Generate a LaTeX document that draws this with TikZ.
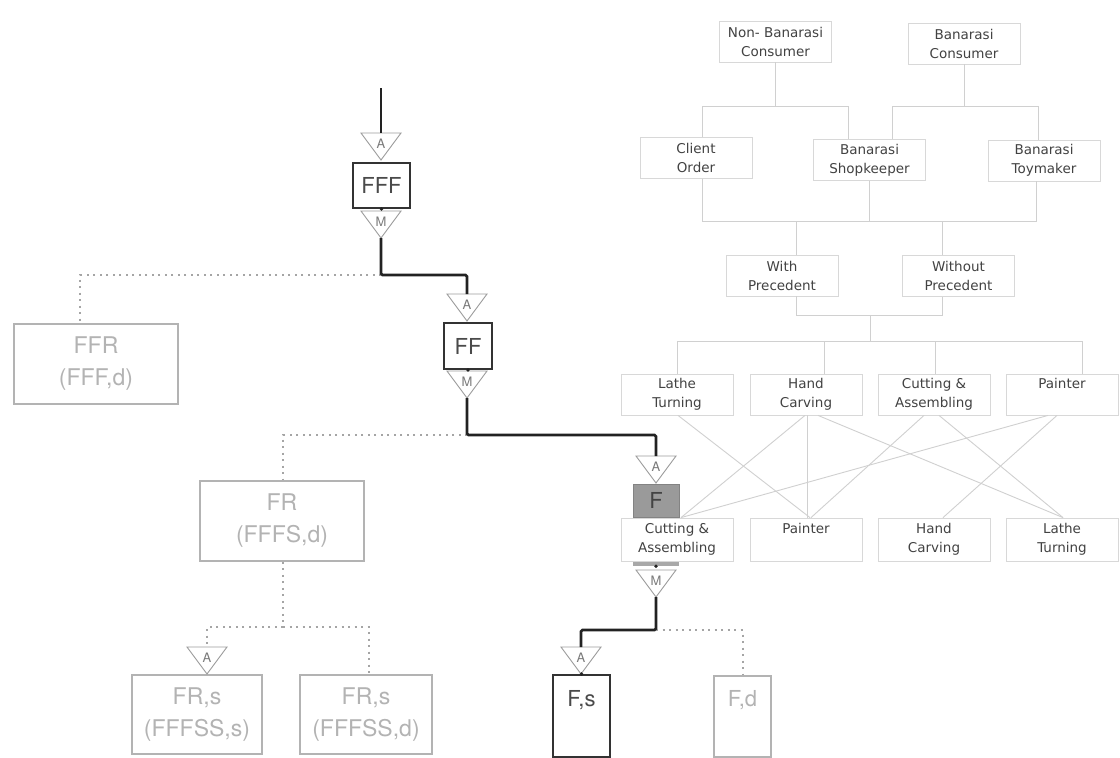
\documentclass[tikz,border=0pt]{standalone}
\usepackage{fontspec}
\setmainfont{TeX Gyre Heros}
\newfontfamily\treefont{DejaVu Sans}
\definecolor{ink}{HTML}{222222}
\definecolor{darkborder}{HTML}{333333}
\definecolor{darktext}{HTML}{4A4A4A}
\definecolor{lightgr}{HTML}{B3B3B3}
\definecolor{dotgr}{HTML}{A5A5A5}
\definecolor{trigr}{HTML}{9C9C9C}
\definecolor{trilblc}{HTML}{7A7A7A}
\definecolor{treeline}{HTML}{D0D0D0}
\definecolor{treeborder}{HTML}{D8D8D8}
\definecolor{treetext}{HTML}{424242}
\definecolor{ffill}{HTML}{9A9A9A}
\definecolor{barfill}{HTML}{A8A8A8}
\tikzset{
  darkbox/.style={draw=darkborder, line width=2pt, inner sep=0pt, text=darktext,
    font=\fontsize{22}{26}\selectfont},
  lightbox/.style={draw=lightgr, line width=1.8pt, inner sep=0pt, text=lightgr,
    align=center, font=\fontsize{23}{32}\selectfont},
  treebox/.style={draw=treeborder, line width=0.8pt, inner sep=0pt, text=treetext,
    align=center, minimum width=112, minimum height=41,
    font=\treefont\fontsize{13.5}{19}\selectfont},
  tree/.style={draw=treeline, line width=0.9pt},
  mainline/.style={draw=ink, line width=2.8pt, rounded corners=1.5pt},
  dotline/.style={draw=dotgr, line width=2pt, dash pattern=on 2pt off 4.5pt},
  tricol/.style={draw=trigr, line width=0.9pt, line join=miter},
  trilbl/.style={text=trilblc, inner sep=0pt, font=\fontsize{13}{14}\selectfont},
  pics/dtri/.style={code={
    \draw[tricol] (-20,0) -- (20,0) -- (0,27) -- cycle;
    \coordinate (-top) at (0,0);
    \coordinate (-apex) at (0,27);
    \node[trilbl] (-l) at (0,11) {#1};
  }}
}
\begin{document}
\begin{tikzpicture}[x=1pt,y=-1pt]
\useasboundingbox (0,0) rectangle (1120,758);
\fill[white] (0,0) rectangle (1120,758);

% ---------------- right tree -----------------
\node[treebox] (nbc) at (775.5,41.5) {Non- Banarasi\\Consumer};
\node[treebox] (bc)  at (964,43.5) {Banarasi\\Consumer};
\node[treebox] (co)  at (696,158) {Client\\Order};
\node[treebox] (sk)  at (869.5,160) {Banarasi\\Shopkeeper};
\node[treebox] (tm)  at (1044,160.5) {Banarasi\\Toymaker};
\node[treebox] (wp)  at (782,275.5) {With\\Precedent};
\node[treebox] (wop) at (958.5,276) {Without\\Precedent};

\node[treebox] (lt1) at (677,394.5) {Lathe\\Turning};
\node[treebox] (hc1) at (806,394.5) {Hand\\Carving};
\node[treebox] (ca1) at (934,394.5) {Cutting \&\\Assembling};
\node[treebox] (pa1) at (1062,394.5) {Painter\\\phantom{g}};

\node[treebox, minimum height=43] (ca2) at (677,539.5) {Cutting \&\\Assembling};
\node[treebox, minimum height=43] (pa2) at (806,539.5) {Painter\\\phantom{g}};
\node[treebox, minimum height=43] (hc2) at (934,539.5) {Hand\\Carving};
\node[treebox, minimum height=43] (lt2) at (1062,539.5) {Lathe\\Turning};

\coordinate (b1l) at (702,106); \coordinate (b1r) at (848,106);
\draw[tree] (nbc.south) -- (nbc.south |- b1l);
\draw[tree] (b1l |- co.north) -- (b1l) -- (b1r) -- (b1r |- sk.north);
\coordinate (b2l) at (892,106); \coordinate (b2r) at (1038,106);
\draw[tree] (bc.south) -- (bc.south |- b2l);
\draw[tree] (b2l |- sk.north) -- (b2l) -- (b2r) -- (b2r |- tm.north);

\coordinate (b3l) at (702,221); \coordinate (b3r) at (1036,221);
\draw[tree] (b3l |- co.south) -- (b3l) -- (b3r) -- (b3r |- tm.south);
\draw[tree] (sk.south) -- (sk.south |- b3l);

\coordinate (b4l) at (796,315); \coordinate (b4r) at (942,315);
\draw[tree] (b4l |- b3l) -- (b4l |- wp.north);
\draw[tree] (b4r |- b3l) -- (b4r |- wop.north);
\draw[tree] (b4l |- wp.south) -- (b4l) -- (b4r) -- (b4r |- wop.south);

\coordinate (b5m) at (870,341);
\draw[tree] (b5m |- b4l) -- (b5m);
\coordinate (b5l) at (677,341); \coordinate (b5r) at (1082,341);
\coordinate (v1) at (824,341); \coordinate (v2) at (935,341);
\draw[tree] (b5l) -- (b5r);
\draw[tree] (b5l) -- (b5l |- lt1.north);
\draw[tree] (v1) -- (v1 |- hc1.north);
\draw[tree] (v2) -- (v2 |- ca1.north);
\draw[tree] (b5r) -- (b5r |- pa1.north);

% crossing lines
\draw[tree] ([xshift=1pt]lt1.south) -- ([xshift=4pt]pa2.north);
\draw[tree] ([xshift=-1pt]hc1.south) -- ([xshift=4pt]ca2.north);
\draw[tree] ([xshift=1pt]hc1.south) -- ([xshift=1pt]pa2.north);
\draw[tree] ([xshift=12pt]hc1.south) -- ([xshift=1pt]lt2.north);
\draw[tree] ([xshift=-10pt]ca1.south) -- ([xshift=5pt]pa2.north);
\draw[tree] ([xshift=5pt]ca1.south) -- ([xshift=1pt]lt2.north);
\draw[tree] ([xshift=-14pt]pa1.south) -- ([xshift=4pt]ca2.north);
\draw[tree] ([xshift=-5pt]pa1.south) -- ([xshift=9pt]hc2.north);

% ---------------- left chain -----------------
\node[darkbox, minimum width=57, minimum height=45] (fff) at (381.5,185.5) {FFF};
\node[darkbox, minimum width=48, minimum height=46] (ff) at (468,346) {FF};
\node[lightbox, minimum width=164, minimum height=80] (ffr) at (96,364) {FFR\\(FFF,d)};
\node[lightbox, minimum width=164, minimum height=80] (fr) at (282,521) {FR\\(FFFS,d)};
\node[lightbox, minimum width=130, minimum height=79] (frs1) at (197,714.5) {FR,s\\(FFFSS,s)};
\node[lightbox, minimum width=132, minimum height=79] (frs2) at (366,714.5) {FR,s\\(FFFSS,d)};
\node[draw=ffill!85!black, line width=0.8pt, fill=ffill, minimum width=46, minimum height=33,
      inner sep=0pt, text=ink!85!white, font=\fontsize{22}{26}\selectfont] (fbox) at (656,500.5) {F};
\node[fill=barfill, minimum width=46, minimum height=4, inner sep=0pt] (fbar) at (656,564) {};
\node[darkbox, anchor=north, minimum width=57, minimum height=82,
      text height=31pt, text depth=51pt] (fs) at (581.5,674) {F,s};
\node[lightbox, anchor=north, minimum width=57, minimum height=81,
      text height=31pt, text depth=50pt, font=\fontsize{22}{26}\selectfont] (fd) at (742.5,675) {F,d};

\pic (tA1) at (381,133) {dtri=A};
\pic (tM1) at (381,211) {dtri=M};
\pic (tA2) at (467,294) {dtri=A};
\pic (tM2) at (467,371) {dtri=M};
\pic (tA3) at (656,456) {dtri=A};
\pic (tM3) at (656,570) {dtri=M};
\pic (tA4) at (207,647) {dtri=A};
\pic (tA5) at (581,647) {dtri=A};

\coordinate (top0) at (381,88);
\coordinate (c1) at (381,275);
\coordinate (c2) at (467,435);
\coordinate (c3) at (283,627);
\coordinate (c4) at (656,630);

% dotted branches
\draw[dotline] (c1) -| ([xshift=-16pt]ffr.north);
\draw[dotline] (c2) -| ([xshift=1pt]fr.north);
\draw[dotline] ([xshift=1pt]fr.south) -- (c3);
\draw[dotline] (c3) -| (tA4-top);
\draw[dotline] (c3) -| ([xshift=3pt]frs2.north);
\draw[dotline] (c4) -| (fd.north);

% main path
\draw[mainline] (top0) -- (tA1-top);
\draw[mainline] (tM1-apex) -- (c1) -| (tA2-top);
\draw[mainline] (tM2-apex) -- (c2) -| (tA3-top);
\draw[mainline] (tM3-apex) -- (c4) -| (tA5-top);

% small dots
\fill[ink] (fff.south) circle (1.8);
\fill[ink] (ff.south) circle (1.8);
\fill[ink] (fbar.south) circle (1.8);
\fill[ink] (fs.north) circle (1.8);
\end{tikzpicture}
\end{document}
